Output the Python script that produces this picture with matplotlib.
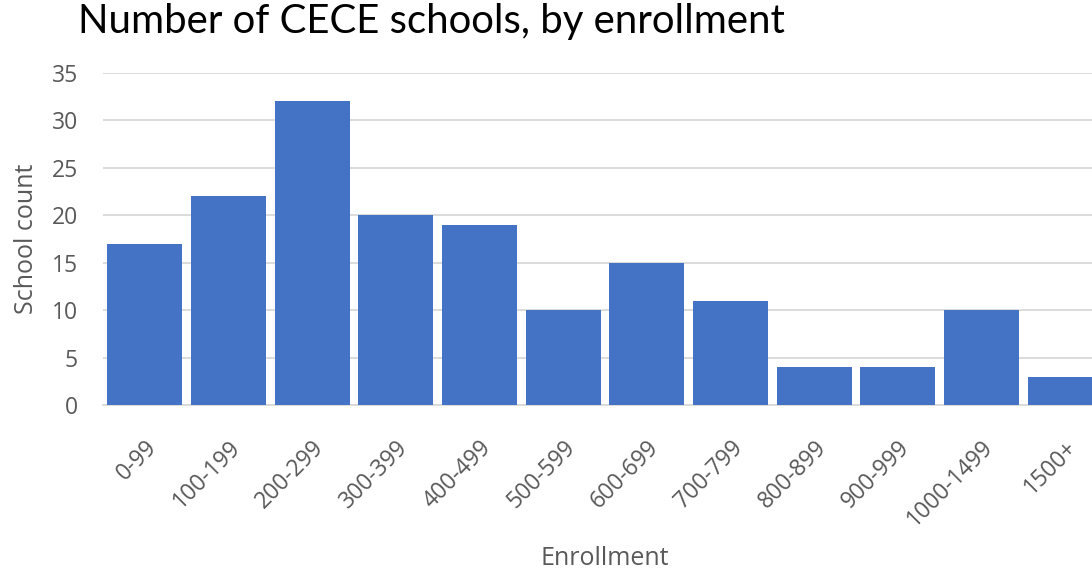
import matplotlib.pyplot as plt
import numpy as np

categories = ['0-99', '100-199', '200-299', '300-399', '400-499', '500-599',
              '600-699', '700-799', '800-899', '900-999', '1000-1499', '1500+']
counts = [17, 22, 32, 20, 19, 10, 15, 11, 4, 4, 10, 3]

plt.rcParams['font.family'] = ['Open Sans', 'DejaVu Sans']

fig = plt.figure(figsize=(10.92, 5.72), dpi=100)
# axes runs past the right edge on purpose, the last bar is cut off in the original
ax = fig.add_axes([103 / 1092, 167 / 572, 1004 / 1092, 332 / 572])

x = np.arange(len(categories))
ax.bar(x, counts, width=0.9, color='#4472C4', zorder=3)

ax.set_xlim(-0.5, len(categories) - 0.5)
ax.set_ylim(0, 35)
ax.set_yticks(range(0, 36, 5))
ax.grid(axis='y', color='#d9d9d9', linewidth=1.3, zorder=0)

for s in ['top', 'right', 'left']:
    ax.spines[s].set_visible(False)
ax.spines['bottom'].set_color('#d9d9d9')
ax.spines['bottom'].set_linewidth(1.3)

ax.tick_params(axis='both', length=0, colors='#595959', labelsize=16.5)
ax.tick_params(axis='y', pad=18)
ax.tick_params(axis='x', pad=22)
ax.set_xticks(x)
ax.set_xticklabels(categories, rotation=45, ha='right', rotation_mode='anchor')

ax.set_ylabel('School count', fontsize=18, color='#595959')
ax.yaxis.set_label_coords(-0.064, 0.5)
ax.set_xlabel('Enrollment', fontsize=18, color='#595959')
ax.xaxis.set_label_coords(502 / 1004, -0.425)

fig.text(78 / 1092, 1 - 33 / 572, 'Number of CECE schools, by enrollment',
         fontsize=28.9, va='baseline', ha='left', family=['Lato', 'DejaVu Sans'])

fig.savefig('out.png', dpi=100)
